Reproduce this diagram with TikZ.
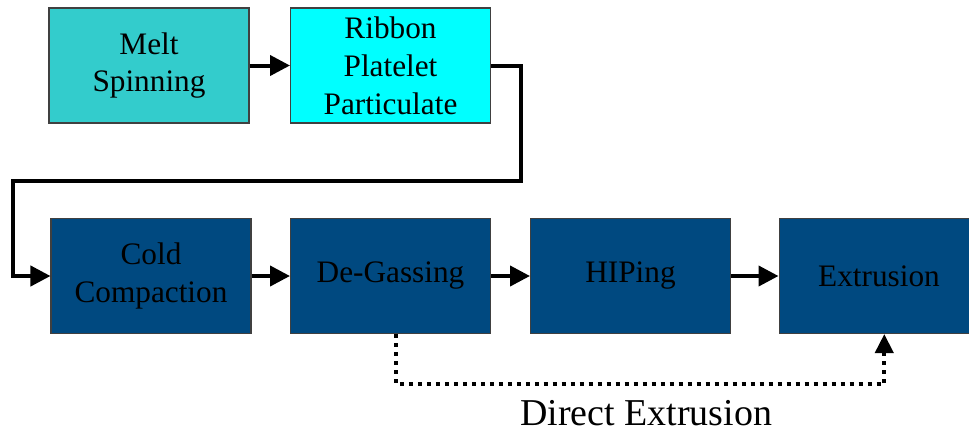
\documentclass[tikz,border=0pt]{standalone}
\usepackage{fontspec}
\setmainfont{Liberation Serif}
\usepackage{tikz}
\usetikzlibrary{positioning}
\usetikzlibrary{arrows.meta}
\usepackage{xcolor}

\definecolor{meltcol}{RGB}{51,204,204}
\definecolor{ribboncol}{RGB}{0,255,255}
\definecolor{stepcol}{RGB}{0,73,128}

\tikzset{
    box/.style={draw=black!75, line width=0.6pt, minimum width=4cm, minimum height=2.3cm,
        align=center, inner sep=0pt, font=\fontsize{17.8}{21.6}\selectfont},
    meltbox/.style={box, fill=meltcol},
    ribbonbox/.style={box, fill=ribboncol},
    stagebox/.style={box, fill=stepcol},
    flow/.style={line width=0.08cm, -{Triangle[length=0.4cm,width=0.4cm]}},
    shortcut/.style={line width=0.08cm, dash pattern=on 0.08cm off 0.1cm,
        -{Triangle[length=0.38cm,width=0.36cm]}}
}

\begin{document}
\begin{tikzpicture}[x=0.02cm, y=-0.02cm]
        \clip (0,0) rectangle (969,433);
        % top row
        \node[meltbox] (melt) at (149,65.5) {Melt\\Spinning};
        \node[ribbonbox] (ribbon) at (390.5,65.5) {Ribbon\\Platelet\\Particulate};
        % bottom row
        \node[stagebox] (cold) at (151,276) {Cold\\Compaction};
        \node[stagebox] (degas) at (390.5,276) {De-Gassing};
        \node[stagebox] (hip) at (630.5,276) {HIPing};
        \node[stagebox] (extr) at (879,276) {Extrusion};
        \coordinate (turn) at (13,181);
        \draw[flow] (melt) -- (ribbon);
        \draw[flow] (ribbon.east) -- ++(30,0) |- (turn) |- (cold.west);
        \draw[flow] (cold) -- (degas);
        \draw[flow] (degas) -- (hip);
        \draw[flow] (hip) -- (extr);
        % shortcut
        \draw[shortcut] ([xshift=3pt]degas.south) -- ++(0,50) -| ([xshift=3pt]extr.south);
        \node[font=\fontsize{21.6}{26}\selectfont] (direct) at (646,413) {Direct Extrusion};
    \end{tikzpicture}
\end{document}
